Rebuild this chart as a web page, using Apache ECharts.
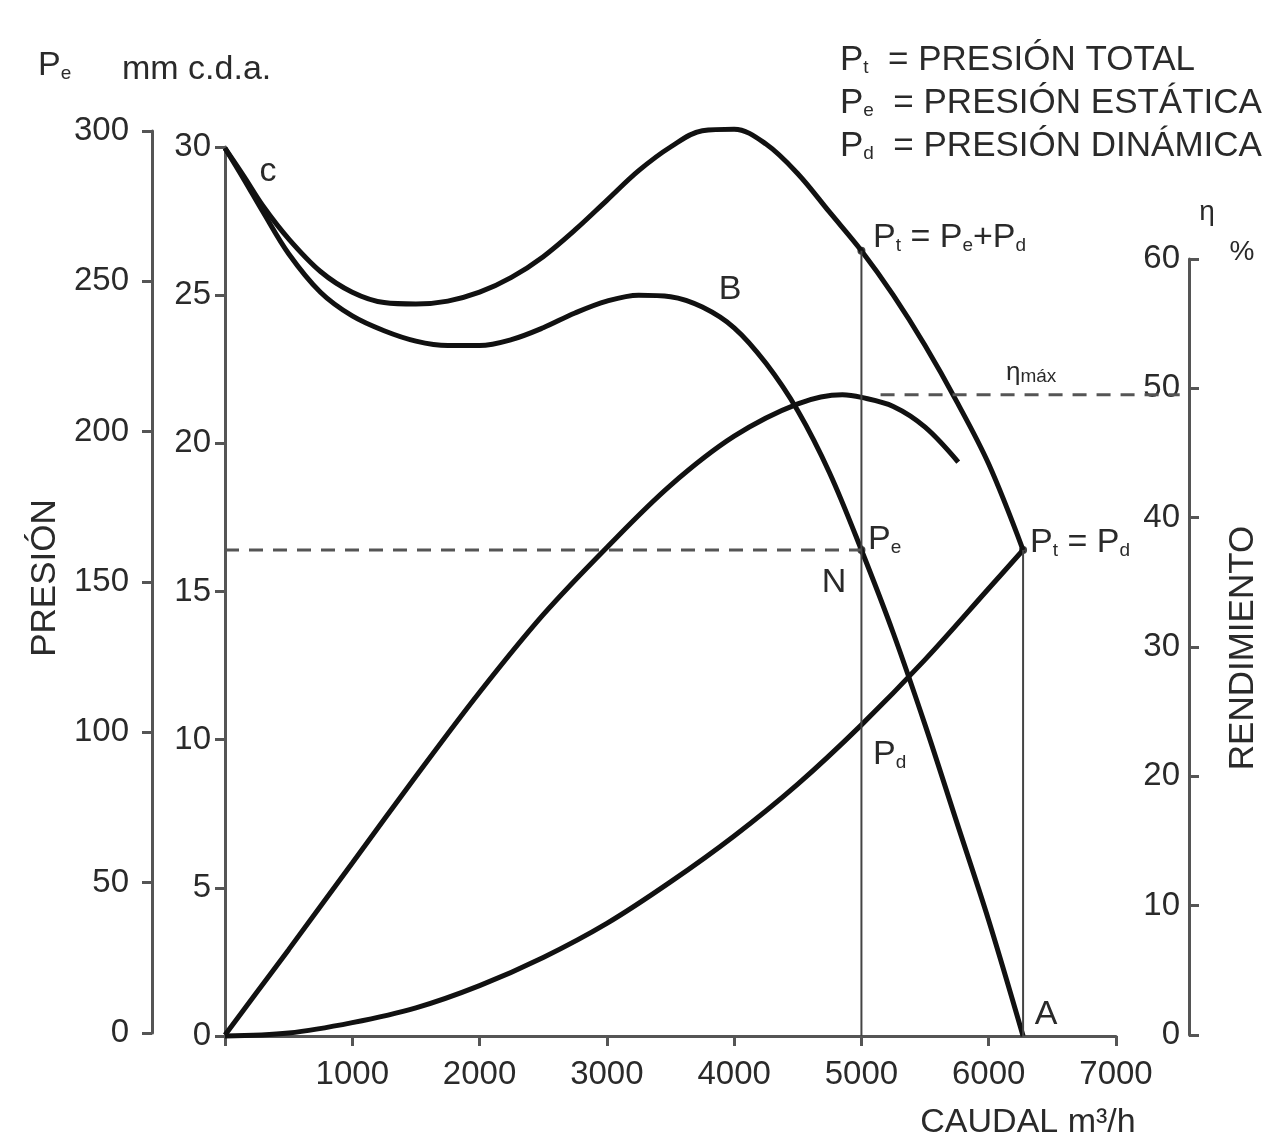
<!DOCTYPE html>
<html>
<head>
<meta charset="utf-8">
<script src="https://cdn.jsdelivr.net/npm/echarts@6/dist/echarts.min.js"></script>
<style>
  html, body { margin: 0; padding: 0; background: #fff; }
  #chart { width: 1273px; height: 1146px; }
</style>
</head>
<body>
<div id="chart"></div>
<script>
// caudal en m3/h, presiones en la escala interior (0-30)
var caudal = [0, 150, 300, 500, 750, 1000, 1250, 1500, 1750, 2000, 2250, 2500, 2750, 3000, 3250, 3500, 3750, 4000, 4250, 4500, 4750, 5000, 5250, 5500, 5750, 6000, 6270];
var presionTotal = [29.96, 29.0, 28.0, 26.9, 25.8, 25.1, 24.75, 24.7, 24.8, 25.1, 25.6, 26.3, 27.2, 28.2, 29.2, 30.0, 30.55, 30.6, 30.1, 29.1, 27.8, 26.5, 25.0, 23.3, 21.4, 19.3, 16.4];
var presionEstatica = [29.96, 28.9, 27.8, 26.4, 25.1, 24.3, 23.8, 23.45, 23.3, 23.3, 23.5, 23.9, 24.4, 24.8, 25.0, 24.95, 24.6, 23.9, 22.7, 21.1, 19.0, 16.4, 13.6, 10.5, 7.2, 3.9, 0];

var caudalDin = [0, 500, 1000, 1500, 2000, 2500, 3000, 3500, 4000, 4500, 5000, 5500, 6000, 6270];
var presionDinamica = [0, 0.1, 0.45, 0.95, 1.7, 2.65, 3.8, 5.2, 6.75, 8.5, 10.5, 12.7, 15.1, 16.4];

// rendimiento en %
var caudalRend = [0, 250, 500, 1000, 1500, 2000, 2500, 3000, 3500, 4000, 4500, 4850, 5000, 5250, 5500, 5760];
var rendimiento = [0, 3.3, 6.6, 13.3, 20.0, 26.5, 32.5, 37.7, 42.5, 46.3, 48.8, 49.5, 49.3, 48.6, 47.0, 44.3];

// puntos singulares
var qN = 5000, pN = 16.4, ptN = 26.5;
var qMax = 6270, pMax = 16.4;
var etaMax = 49.5, qEtaDesde = 5150, qEtaHasta = 7500;

var textColor = '#2a2a2a';
var axisColor = '#555';
var font = '"Liberation Sans", Arial, sans-serif';

function pares(xs, ys) {
  var out = [];
  for (var i = 0; i < xs.length; i++) out.push([xs[i], ys[i]]);
  return out;
}

function curva(datos, xi, yi) {
  return {
    type: 'line', xAxisIndex: xi, yAxisIndex: yi, data: datos,
    smooth: 0.35, symbol: 'none', silent: true, clip: false,
    lineStyle: { color: '#111', width: 5 }
  };
}

function recta(datos, xi, yi, ancho, tipo) {
  return {
    type: 'line', xAxisIndex: xi, yAxisIndex: yi, data: datos,
    symbol: 'none', silent: true, clip: false,
    lineStyle: { color: tipo ? axisColor : '#444', width: ancho, type: tipo || 'solid' }
  };
}

var ejeLinea = { show: true, onZero: false, lineStyle: { color: axisColor, width: 3 } };
var ejeTick = { show: true, inside: false, length: 10, lineStyle: { color: axisColor, width: 3 } };
var etiqueta = { color: textColor, fontSize: 33, fontFamily: font };

var sub = { fontSize: 19, fontFamily: font, fill: textColor, verticalAlign: 'bottom', lineHeight: 20 };

function texto(x, y, t, size, align, extra) {
  var s = { x: x, y: y, text: t, fill: textColor, font: size + 'px ' + font, align: align || 'center', verticalAlign: 'middle' };
  if (extra) s.rich = { s: sub };
  return { type: 'text', style: s, silent: true };
}

var chart = echarts.init(document.getElementById('chart'));

var option = {
  backgroundColor: '#fff',
  animation: false,
  grid: [
    { left: 225, right: 157, top: 147, bottom: 110, containLabel: false, outerBoundsMode: 'none' },
    { left: 152, width: 1, top: 131, bottom: 113, containLabel: false, outerBoundsMode: 'none' },
    { left: 225, right: 84, top: 259, bottom: 111, containLabel: false, outerBoundsMode: 'none' }
  ],
  xAxis: [
    {
      gridIndex: 0, type: 'value', min: 0, max: 7000, interval: 1000,
      axisLine: ejeLinea, axisTick: ejeTick, splitLine: { show: false },
      axisLabel: Object.assign({ margin: 22, formatter: function (v) { return v === 0 ? '' : v; } }, etiqueta)
    },
    { gridIndex: 1, type: 'value', min: 0, max: 1, show: false },
    { gridIndex: 2, type: 'value', min: 0, max: 7573, show: false }
  ],
  yAxis: [
    {
      gridIndex: 0, type: 'value', min: 0, max: 30, interval: 5,
      axisLine: ejeLinea, axisTick: ejeTick, splitLine: { show: false },
      axisLabel: Object.assign({ margin: 14 }, etiqueta)
    },
    {
      gridIndex: 1, type: 'value', min: 0, max: 300, interval: 50,
      axisLine: ejeLinea, axisTick: ejeTick, splitLine: { show: false },
      axisLabel: Object.assign({ margin: 23 }, etiqueta)
    },
    {
      gridIndex: 2, type: 'value', position: 'right', min: 0, max: 60, interval: 10,
      axisLine: ejeLinea, axisTick: ejeTick, splitLine: { show: false },
      axisLabel: Object.assign({ inside: true, margin: 9 }, etiqueta)
    }
  ],
  series: [
    curva(pares(caudal, presionTotal), 0, 0),
    curva(pares(caudal, presionEstatica), 0, 0),
    curva(pares(caudalDin, presionDinamica), 0, 0),
    curva(pares(caudalRend, rendimiento), 2, 2),
    recta([[0, pN], [qN, pN]], 0, 0, 3, [14, 10]),
    recta([[qEtaDesde, etaMax], [qEtaHasta, etaMax]], 2, 2, 3, [14, 10]),
    recta([[qN, 0], [qN, ptN]], 0, 0, 2),
    recta([[qMax, 0], [qMax, pMax]], 0, 0, 2),
    {
      type: 'scatter', xAxisIndex: 0, yAxisIndex: 0, silent: true,
      data: [[qN, ptN], [qN, pN], [qMax, pMax]],
      symbolSize: 8, itemStyle: { color: '#111' }
    }
  ],
  graphic: [
    texto(38, 66, 'P{s|e}', 34, 'left', true),
    texto(122, 70, 'mm c.d.a.', 34, 'left'),
    texto(840, 60, 'P{s|t}  = PRESIÓN TOTAL', 35, 'left', true),
    texto(840, 103, 'P{s|e}  = PRESIÓN ESTÁTICA', 35, 'left', true),
    texto(840, 146, 'P{s|d}  = PRESIÓN DINÁMICA', 35, 'left', true),
    texto(268, 172, 'c', 34),
    texto(730, 290, 'B', 34),
    texto(873, 238, 'P{s|t} = P{s|e}+P{s|d}', 34, 'left', true),
    texto(1006, 373, 'η{s|máx}', 26, 'left', true),
    texto(868, 540, 'P{s|e}', 34, 'left', true),
    texto(834, 583, 'N', 34),
    texto(1030, 543, 'P{s|t} = P{s|d}', 34, 'left', true),
    texto(873, 755, 'P{s|d}', 34, 'left', true),
    texto(1046, 1015, 'A', 34),
    texto(1207, 212, 'η', 28),
    texto(1242, 252, '%', 28),
    texto(1028, 1123, 'CAUDAL m³/h', 34),
    { type: 'text', x: 45, y: 578, rotation: Math.PI / 2, silent: true,
      style: { text: 'PRESIÓN', fill: textColor, font: '35px ' + font, align: 'center', verticalAlign: 'middle' } },
    { type: 'text', x: 1243, y: 648, rotation: Math.PI / 2, silent: true,
      style: { text: 'RENDIMIENTO', fill: textColor, font: '35px ' + font, align: 'center', verticalAlign: 'middle' } }
  ]
};

chart.setOption(option);
window.addEventListener('resize', function () { chart.resize(); });
</script>
</body>
</html>
